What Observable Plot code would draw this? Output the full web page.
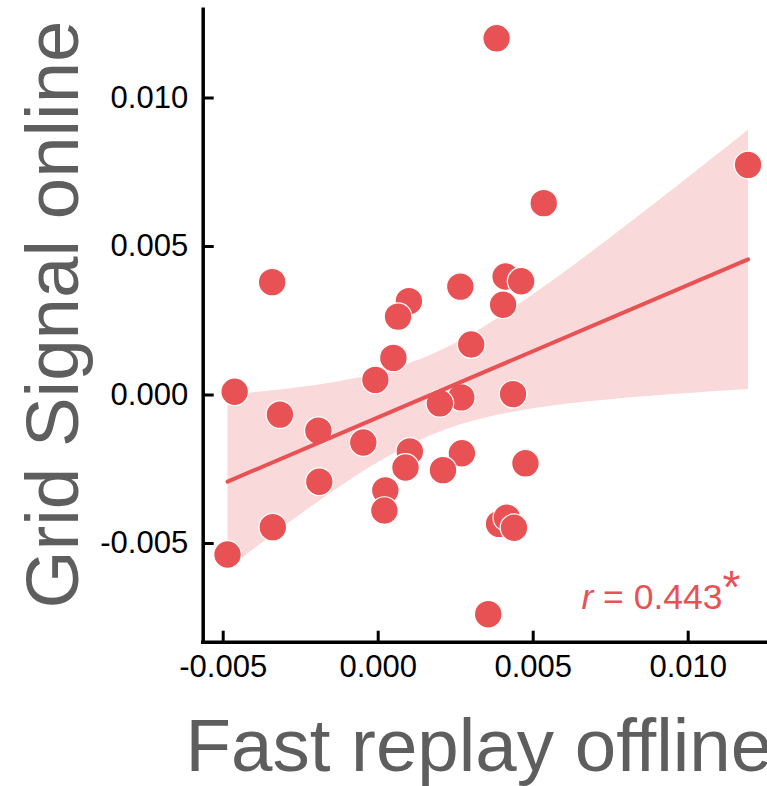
<!DOCTYPE html>
<html>
<head>
<meta charset="utf-8">
<script src="https://cdn.jsdelivr.net/npm/d3@7"></script>
<script src="https://cdn.jsdelivr.net/npm/@observablehq/plot@0.6"></script>
<style>
  html, body { margin: 0; padding: 0; background: #fff; overflow: hidden; }
  #chart svg { display: block; }
</style>
</head>
<body>
<div id="chart"></div>
<script>
// Fast replay measured offline vs. grid signal measured online, one point per subject
const replayOffline = [
  0.00382, 0.01193, 0.00534, -0.00342, 0.00099, 0.00064, 0.00265, 0.00411, 0.00461, 0.00403,
  0.00300, 0.00049, -0.00009, -0.00463, -0.00317, -0.00193, -0.00048, 0.00268, 0.00199, 0.00435,
  0.00102, 0.00088, 0.00270, 0.00209, 0.00475, -0.00190, 0.00023, 0.00020, -0.00340, -0.00486,
  0.00390, 0.00415, 0.00438, 0.00355
];
const gridOnline = [
  0.01201, 0.00775, 0.00646, 0.00380, 0.00316, 0.00264, 0.00365, 0.00399, 0.00383, 0.00304,
  0.00170, 0.00125, 0.00051, 0.00011, -0.00066, -0.00120, -0.00160, -0.00008, -0.00028, 0.00003,
  -0.00190, -0.00244, -0.00196, -0.00253, -0.00230, -0.00292, -0.00321, -0.00389, -0.00445, -0.00537,
  -0.00434, -0.00413, -0.00447, -0.00738
];
const xTicks = [-0.005, 0.000, 0.005, 0.010];
const yTicks = [-0.005, 0.000, 0.005, 0.010];
const xTitle = "Fast replay offline";
const yTitle = "Grid Signal online";
const rLabel = "r = 0.443*";

const red = "#e85254";
const band = "#f9d9da";
const titleGray = "#5e5e5e";

const subjects = replayOffline.map((x, i) => ({x, y: gridOnline[i]}));

const W = 767, H = 786;
const mLeft = 202.7, mRight = 0, mTop = 9.3, mBottom = 144.3;
const xDomain = [-0.0056452, 0.0125581];
const yDomain = [-0.0083232, 0.0129697];
const fmt = d => d.toFixed(3);

const plot = Plot.plot({
  width: W,
  height: H,
  marginLeft: mLeft,
  marginRight: mRight,
  marginTop: mTop,
  marginBottom: mBottom,
  style: {fontFamily: "'Liberation Sans', Arial, Helvetica, sans-serif", fontSize: "31px", color: "#000", background: "#fff"},
  x: {domain: xDomain},
  y: {domain: yDomain},
  marks: [
    // 95% confidence band of the regression
    Plot.linearRegressionY(subjects, {x: "x", y: "y", fill: band, fillOpacity: 1, stroke: "none", ci: 0.95}),
    // subjects
    Plot.dot(subjects, {x: "x", y: "y", r: 13.8, fill: red, stroke: "#fff", strokeWidth: 1.2}),
    // fitted line
    Plot.linearRegressionY(subjects, {x: "x", y: "y", stroke: red, strokeWidth: 4, ci: 0}),
    // axis lines
    Plot.ruleX([xDomain[0]], {stroke: "#000", strokeWidth: 3.5, strokeLinecap: "square"}),
    Plot.ruleY([yDomain[0]], {stroke: "#000", strokeWidth: 3.5, strokeLinecap: "square"}),
    // inward tick marks
    Plot.tickY(yTicks, {y: d => d, stroke: "#000", strokeWidth: 3, insetRight: W - mLeft - mRight - 11}),
    Plot.tickX(xTicks, {x: d => d, stroke: "#000", strokeWidth: 3, insetTop: H - mTop - mBottom - 11}),
    // tick labels
    Plot.axisX(xTicks, {tickSize: 0, tickPadding: 13, tickFormat: fmt, label: null, fontSize: 31}),
    Plot.axisY(yTicks, {tickSize: 0, tickPadding: 15, tickFormat: fmt, label: null, fontSize: 31}),
    // axis titles
    Plot.text([xTitle], {frameAnchor: "bottom-left", textAnchor: "start", lineAnchor: "bottom", dx: -17.7, dy: 128.3, fontSize: 74.5, fill: titleGray}),
    Plot.text([yTitle], {frameAnchor: "left", textAnchor: "middle", lineAnchor: "middle", rotate: -90, dx: -149.4, dy: -11.5, fontSize: 74.5, fill: titleGray}),
    // correlation annotation
    Plot.text([rLabel], {frameAnchor: "bottom-right", textAnchor: "end", lineAnchor: "bottom", dx: -27, dy: -33.4, fontSize: 35.5, fill: red})
  ]
});

// italic r and raised asterisk in the correlation label
d3.select(plot).selectAll("text")
  .filter(function () { return this.textContent === rLabel; })
  .each(function () {
    const t = d3.select(this);
    t.text(null);
    t.append("tspan").attr("font-style", "italic").text("r");
    t.append("tspan").text(" = 0.443");
    t.append("tspan").attr("font-size", "1.3em").attr("dy", "-0.12em").text("*");
  });

document.getElementById("chart").append(plot);
</script>
</body>
</html>
